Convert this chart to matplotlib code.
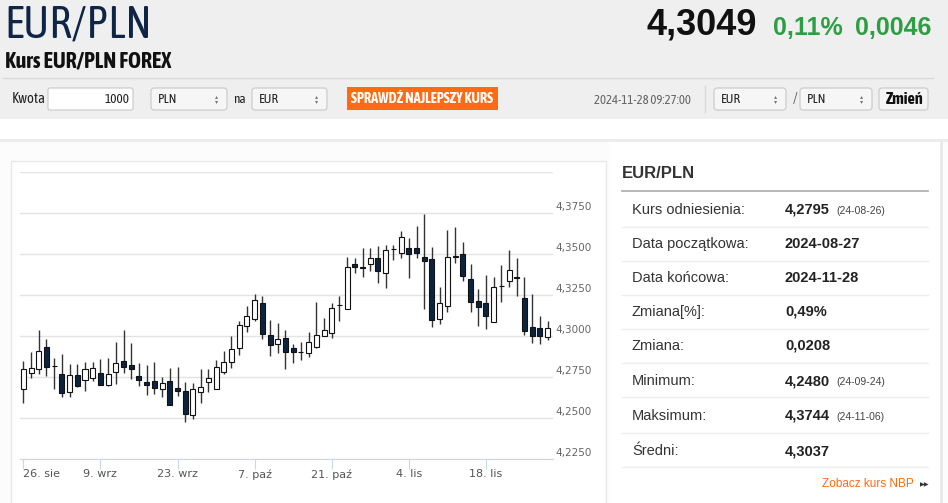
import matplotlib
matplotlib.use('Agg')
import matplotlib.pyplot as plt
from matplotlib import font_manager as fm
from matplotlib.patches import Rectangle, FancyBboxPatch
import numpy as np

# Daily OHLC candles EUR/PLN (weekdays, 26 Aug - 28 Nov 2024)
opens = [4.2676, 4.2777, 4.2801, 4.2935, 4.2820, 4.2771, 4.2659, 4.2763, 4.2732, 4.2747,
         4.2777, 4.2702, 4.2783, 4.2848, 4.2824, 4.2757, 4.2720, 4.2726, 4.2680, 4.2726,
         4.2684, 4.2665, 4.2517, 4.2659, 4.2720, 4.2676, 4.2781, 4.2844, 4.2925, 4.3061,
         4.3105, 4.3203, 4.3004, 4.2949, 4.2986, 4.2925, 4.2905, 4.2899, 4.2935, 4.3002,
         4.3016, 4.3189, 4.3164, 4.3436, 4.3418, 4.3436, 4.3476, 4.3381, 4.3529, 4.3507,
         4.3533, 4.3537, 4.3483, 4.3466, 4.3103, 4.3185, 4.3483, 4.3499, 4.3347, 4.3215,
         4.3199, 4.3087, 4.3302, 4.3337, 4.3357, 4.3229, 4.3057, 4.3047, 4.2996]
highs = [4.2848, 4.2903, 4.3034, 4.2980, 4.2868, 4.2893, 4.2828, 4.2828, 4.2842, 4.2842,
         4.2858, 4.2868, 4.2963, 4.3034, 4.2955, 4.2834, 4.2822, 4.2842, 4.2753, 4.2807,
         4.2813, 4.2720, 4.2712, 4.2797, 4.2797, 4.2852, 4.2909, 4.3000, 4.3091, 4.3182,
         4.3254, 4.3241, 4.3097, 4.3081, 4.3034, 4.2949, 4.2963, 4.3022, 4.3205, 4.3112,
         4.3199, 4.3243, 4.3483, 4.3472, 4.3533, 4.3533, 4.3547, 4.3553, 4.3553, 4.3639,
         4.3594, 4.3669, 4.3744, 4.3543, 4.3296, 4.3645, 4.3661, 4.3574, 4.3436, 4.3284,
         4.3371, 4.3357, 4.3432, 4.3523, 4.3472, 4.3361, 4.3255, 4.3124, 4.3091]
lows = [4.2594, 4.2742, 4.2767, 4.2757, 4.2680, 4.2629, 4.2629, 4.2690, 4.2665, 4.2726,
        4.2700, 4.2696, 4.2710, 4.2777, 4.2736, 4.2696, 4.2641, 4.2649, 4.2631, 4.2578,
        4.2635, 4.2480, 4.2497, 4.2594, 4.2661, 4.2676, 4.2767, 4.2807, 4.2882, 4.3024,
        4.3091, 4.2984, 4.2878, 4.2899, 4.2801, 4.2838, 4.2854, 4.2874, 4.2925, 4.3000,
        4.2986, 4.3091, 4.3164, 4.3381, 4.3361, 4.3395, 4.3324, 4.3290, 4.3462, 4.3472,
        4.3351, 4.3476, 4.3162, 4.3057, 4.3073, 4.3148, 4.3446, 4.3337, 4.3144, 4.3061,
        4.3041, 4.3083, 4.3209, 4.3300, 4.3243, 4.3006, 4.2959, 4.2949, 4.2976]
closes = [4.2797, 4.2807, 4.2909, 4.2813, 4.2817, 4.2655, 4.2761, 4.2696, 4.2801, 4.2807,
          4.2700, 4.2771, 4.2838, 4.2813, 4.2801, 4.2732, 4.2702, 4.2686, 4.2716, 4.2578,
          4.2665, 4.2524, 4.2680, 4.2690, 4.2742, 4.2813, 4.2844, 4.2919, 4.3067, 4.3122,
          4.3217, 4.3014, 4.2943, 4.2984, 4.2903, 4.2905, 4.2903, 4.2961, 4.3006, 4.3034,
          4.3168, 4.3187, 4.3422, 4.3418, 4.3416, 4.3476, 4.3395, 4.3523, 4.3527, 4.3600,
          4.3499, 4.3507, 4.3458, 4.3097, 4.3199, 4.3483, 4.3485, 4.3367, 4.3209, 4.3174,
          4.3122, 4.3296, 4.3304, 4.3401, 4.3351, 4.3032, 4.3002, 4.3000, 4.3047]

tick_index = [0, 10, 20, 30, 40, 50, 60]
tick_labels = ['26. sie', '9. wrz', '23. wrz', '7. paź', '21. paź', '4. lis', '18. lis']
y_ticks = [4.225, 4.25, 4.275, 4.30, 4.325, 4.35, 4.375, 4.40]

stat_labels = ['Kurs odniesienia:', 'Data początkowa:', 'Data końcowa:', 'Zmiana[%]:',
               'Zmiana:', 'Minimum:', 'Maksimum:', 'Średni:']
stat_values = ['4,2795', '2024-08-27', '2024-11-28', '0,49%', '0,0208', '4,2480', '4,3744', '4,3037']
stat_dates = ['(24-08-26)', '', '', '', '', '(24-09-24)', '(24-11-06)', '']

W, H = 948, 503
fig = plt.figure(figsize=(W / 100, H / 100), dpi=100)
fig.patch.set_facecolor('white')
renderer = fig.canvas.get_renderer()

# background axes in pixel coords (y down)
bg = fig.add_axes([0, 0, 1, 1])
bg.set_xlim(0, W)
bg.set_ylim(H, 0)
bg.axis('off')

SANS = ['Liberation Sans', 'DejaVu Sans']


def weight_num(w):
    if isinstance(w, (int, float)):
        return int(w)
    return fm.weight_dict.get(w, 400)


# look for a narrow face that has both regular and bold
cands = {}
for f in fm.fontManager.ttflist:
    if 'Narrow' in f.name or 'Condensed' in f.name:
        cands.setdefault(f.name, set()).add(weight_num(f.weight))
good = sorted([n for n, ws in cands.items() if max(ws) >= 700 and min(ws) <= 400], key=len)
if good:
    narrow = dict(family=[good[0], 'DejaVu Sans'])
else:
    narrow = dict(family=['Roboto', 'DejaVu Sans'])


def ntext(x, y, s, size, width=None, **kw):
    # narrow header text, squeezed to the width it has on the page
    t = bg.text(x, y, s, fontsize=size, **narrow, **kw)
    if width is not None:
        w = t.get_window_extent(renderer).width
        t.set_fontsize(size * width / w)
    return t


# header band
bg.add_patch(Rectangle((0, 0), W, 119, facecolor='#efefef', edgecolor='none'))
bg.add_patch(Rectangle((0, 139), W, 3, facecolor='#ececec', edgecolor='none'))
bg.add_patch(Rectangle((0, 142), W, H - 142, facecolor='#fcfcfc', edgecolor='none'))
bg.plot([3, 933], [78, 78], color='#d9d9d9', lw=1)

ntext(4, 25, 'EUR/PLN', 34, width=148, color='#0f2545', va='center', ha='left')
bg.text(757, 25, '4,3049', fontsize=26, color='#111111', weight='bold', family=SANS, va='center', ha='right')
bg.text(773, 28, '0,11%', fontsize=18, color='#2e9e44', weight='bold', family=SANS, va='center', ha='left')
bg.text(855, 28, '0,0046', fontsize=18, color='#2e9e44', weight='bold', family=SANS, va='center', ha='left')
ntext(5, 61, 'Kurs EUR/PLN FOREX', 12.5, width=166, color='#111111', weight='bold', va='center')


# controls row
def box(x0, x1, y0=88, y1=110, fc='white', ec='#c8c8c8', r=3):
    bg.add_patch(FancyBboxPatch((x0, y0), x1 - x0, y1 - y0,
                                boxstyle='round,pad=0,rounding_size=%d' % r,
                                facecolor=fc, edgecolor=ec, lw=0.8))


def select(x0, x1, label):
    box(x0, x1, fc='#f6f6f6')
    ntext(x0 + 7, 99, label, 9.5, color='#222222', va='center')
    bg.text(x1 - 10, 99, '▴\n▾', fontsize=4.5, color='#777777', va='center', ha='center', linespacing=0.9)


ntext(12, 99, 'Kwota', 9.5, width=34, color='#222222', va='center')
box(48, 133, r=2)
ntext(130, 99, '1000', 9.5, color='#222222', va='center', ha='right')
select(151, 227, 'PLN')
ntext(233, 99, 'na', 9.5, color='#222222', va='center')
select(252, 327, 'EUR')
bg.add_patch(Rectangle((347, 87), 151, 23, facecolor='#ff6a13', edgecolor='none'))
ntext(422, 98.5, 'SPRAWDŹ NAJLEPSZY KURS', 8, width=141, color='white', weight='bold',
      va='center', ha='center')
ntext(691, 100, '2024-11-28 09:27:00', 8, width=97, color='#666666', va='center', ha='right')
bg.plot([705, 705], [86, 112], color='#d9d9d9', lw=1)
select(714, 786, 'EUR')
ntext(793, 99, '/', 10, color='#555555', va='center')
select(800, 872, 'PLN')
box(879, 928, fc='#f4f4f4')
ntext(903.5, 99, 'Zmień', 9, width=38, color='#111111', weight='bold', va='center', ha='center')

# chart panel
bg.add_patch(Rectangle((11, 161), 595, 350, facecolor='white', edgecolor='#e8e8e8', lw=1))
# right panel
bg.add_patch(Rectangle((610, 142), 330, 361, facecolor='white', edgecolor='none'))
bg.plot([941, 941], [142, H], color='#e8e8e8', lw=2)
bg.text(622, 174, 'EUR/PLN', fontsize=12, weight='bold', color='#333333', family=SANS, va='center')
bg.plot([622, 928], [191, 191], color='#aaaaaa', lw=1.2)

row_y = [210, 244, 278, 312, 346, 381, 416, 451]
sep_y = [227, 261, 295, 329, 363, 397, 433, 467]
for lab, val, dt, ry, sy in zip(stat_labels, stat_values, stat_dates, row_y, sep_y):
    bg.text(632, ry, lab, fontsize=10.5, color='#333333', family=SANS, va='center')
    bg.text(785, ry, val, fontsize=10.5, color='#222222', weight='bold', family=SANS, va='center')
    if dt:
        bg.text(836, ry + 1, dt, fontsize=7.5, color='#444444', family=SANS, va='center')
    bg.plot([622, 928], [sy, sy], color='#eeeeee', lw=1)
bg.text(914, 484, 'Zobacz kurs NBP', fontsize=8.5, color='#ff6a13', family=SANS, va='center', ha='right')
bg.text(929, 485, '▶▶', fontsize=4.5, color='#333333', family=['DejaVu Sans'], va='center', ha='right')

# candlestick chart
ax = fig.add_axes([20 / W, 1 - 459.3 / H, 533 / W, (459.3 - 171.7) / H])
ax.set_facecolor('white')
idx = np.arange(len(opens))
o = np.array(opens)
c = np.array(closes)
up = c >= o
ax.vlines(idx, lows, highs, color='#333333', lw=1, zorder=2)
bottoms = np.minimum(o, c)
heights = np.maximum(np.abs(c - o), 0.0002)
ax.bar(idx, heights, bottom=bottoms, width=0.65,
       color=np.where(up, 'white', '#0c2340'), edgecolor='#111111', lw=0.8, zorder=3)

ax.set_xlim(-0.43, 68.7)
ax.set_ylim(4.225, 4.40)
ax.set_yticks(y_ticks)
ax.grid(axis='y', color='#e3e3e3', lw=1)
ax.set_axisbelow(True)
for s in ['top', 'left', 'right']:
    ax.spines[s].set_visible(False)
ax.spines['bottom'].set_color('#ccd6eb')
ax.tick_params(axis='y', length=0, labelleft=False)
ax.set_xticks(tick_index)
ax.set_xticklabels(tick_labels, fontsize=8, color='#555555', family=['DejaVu Sans'])
ax.tick_params(axis='x', direction='out', length=7, color='#ccd6eb', pad=0)
# first label is kept inside the plot, the rest are centred on their ticks
ax.get_xticklabels()[0].set_horizontalalignment('left')
ax.get_xticklabels()[0].set_x(-0.35)

for v in y_ticks[:-1]:
    ax.text(1.004, v + 0.0037, ('%.4f' % v).replace('.', ','), transform=ax.get_yaxis_transform(),
            fontsize=7.5, color='#666666', family=['DejaVu Sans'], va='center', ha='left')

fig.savefig('out.png', dpi=100)
